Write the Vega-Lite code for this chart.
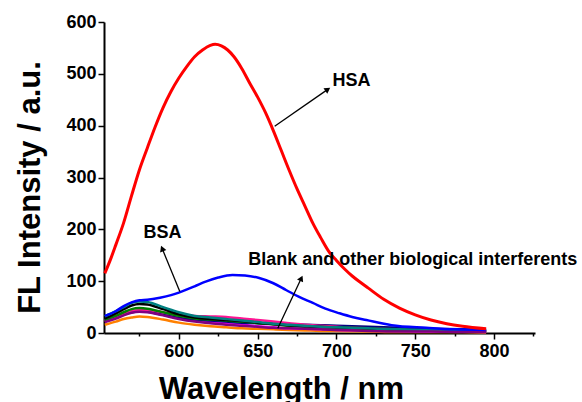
{
  "$schema": "https://vega.github.io/schema/vega-lite/v6.json",
  "width": 431,
  "height": 311,
  "autosize": {"type": "none"},
  "padding": {"left": 104, "top": 22, "right": 47, "bottom": 69},
  "config": {
    "view": {"stroke": null},
    "font": "Liberation Sans",
    "axis": {"grid": false, "domainColor": "black", "domainWidth": 2, "tickColor": "black", "tickWidth": 1.5, "labelFont": "Liberation Sans", "labelFontWeight": "bold", "labelFontSize": 18, "labelColor": "black", "titleFont": "Liberation Sans", "titleFontWeight": "bold", "titleFontSize": 31, "titleColor": "black"}
  },
  "datasets": {
    "red": [
      {"wl": 553, "fl": 115}, {"wl": 557, "fl": 145}, {"wl": 560, "fl": 170}, {"wl": 565, "fl": 213}, {"wl": 570, "fl": 265}, {"wl": 575, "fl": 315}, {"wl": 580, "fl": 357}, {"wl": 585, "fl": 398}, {"wl": 590, "fl": 435}, {"wl": 595, "fl": 466}, {"wl": 600, "fl": 492}, {"wl": 605, "fl": 514}, {"wl": 610, "fl": 533}, {"wl": 615, "fl": 546}, {"wl": 620, "fl": 555}, {"wl": 623, "fl": 557}, {"wl": 627, "fl": 554}, {"wl": 631, "fl": 546}, {"wl": 635, "fl": 533}, {"wl": 640, "fl": 510}, {"wl": 645, "fl": 482}, {"wl": 650, "fl": 455}, {"wl": 655, "fl": 425}, {"wl": 660, "fl": 390}, {"wl": 665, "fl": 352}, {"wl": 670, "fl": 314}, {"wl": 675, "fl": 278}, {"wl": 680, "fl": 245}, {"wl": 685, "fl": 212}, {"wl": 690, "fl": 184}, {"wl": 695, "fl": 158}, {"wl": 700, "fl": 140}, {"wl": 705, "fl": 124}, {"wl": 710, "fl": 110}, {"wl": 716, "fl": 96}, {"wl": 720, "fl": 87}, {"wl": 730, "fl": 65}, {"wl": 740, "fl": 48}, {"wl": 750, "fl": 35}, {"wl": 760, "fl": 25}, {"wl": 770, "fl": 18}, {"wl": 780, "fl": 13}, {"wl": 795, "fl": 8}
    ],
    "blue": [
      {"wl": 553, "fl": 33}, {"wl": 560, "fl": 42}, {"wl": 565, "fl": 52}, {"wl": 570, "fl": 59}, {"wl": 575, "fl": 63}, {"wl": 580, "fl": 64}, {"wl": 588, "fl": 68}, {"wl": 595, "fl": 73}, {"wl": 600, "fl": 78}, {"wl": 610, "fl": 90}, {"wl": 617, "fl": 99}, {"wl": 625, "fl": 107}, {"wl": 634, "fl": 112}, {"wl": 642, "fl": 111}, {"wl": 651, "fl": 106}, {"wl": 660, "fl": 96}, {"wl": 668, "fl": 83}, {"wl": 676, "fl": 70}, {"wl": 685, "fl": 58}, {"wl": 693, "fl": 47}, {"wl": 702, "fl": 38}, {"wl": 710, "fl": 31}, {"wl": 719, "fl": 25}, {"wl": 735, "fl": 15}, {"wl": 757, "fl": 10}, {"wl": 775, "fl": 7}, {"wl": 795, "fl": 6}
    ],
    "others": [
      {"s": "Orange", "wl": 553, "fl": 16}, {"s": "Orange", "wl": 560, "fl": 22}, {"s": "Orange", "wl": 565, "fl": 27}, {"s": "Orange", "wl": 570, "fl": 30}, {"s": "Orange", "wl": 575, "fl": 32}, {"s": "Orange", "wl": 580, "fl": 31}, {"s": "Orange", "wl": 590, "fl": 26}, {"s": "Orange", "wl": 600, "fl": 20}, {"s": "Orange", "wl": 610, "fl": 16}, {"s": "Orange", "wl": 620, "fl": 13}, {"s": "Orange", "wl": 630, "fl": 11}, {"s": "Orange", "wl": 640, "fl": 9}, {"s": "Orange", "wl": 650, "fl": 8}, {"s": "Orange", "wl": 660, "fl": 7}, {"s": "Orange", "wl": 670, "fl": 6}, {"s": "Orange", "wl": 680, "fl": 5}, {"s": "Orange", "wl": 690, "fl": 4}, {"s": "Orange", "wl": 700, "fl": 4}, {"s": "Orange", "wl": 720, "fl": 3}, {"s": "Orange", "wl": 740, "fl": 2}, {"s": "Orange", "wl": 760, "fl": 2}, {"s": "Orange", "wl": 780, "fl": 2}, {"s": "Orange", "wl": 795, "fl": 1},
      {"s": "Magenta", "wl": 553, "fl": 24}, {"s": "Magenta", "wl": 560, "fl": 31}, {"s": "Magenta", "wl": 565, "fl": 37}, {"s": "Magenta", "wl": 570, "fl": 41}, {"s": "Magenta", "wl": 575, "fl": 43}, {"s": "Magenta", "wl": 580, "fl": 42}, {"s": "Magenta", "wl": 590, "fl": 36}, {"s": "Magenta", "wl": 600, "fl": 29}, {"s": "Magenta", "wl": 610, "fl": 24}, {"s": "Magenta", "wl": 620, "fl": 21}, {"s": "Magenta", "wl": 630, "fl": 19}, {"s": "Magenta", "wl": 640, "fl": 16}, {"s": "Magenta", "wl": 650, "fl": 13}, {"s": "Magenta", "wl": 660, "fl": 11}, {"s": "Magenta", "wl": 670, "fl": 9}, {"s": "Magenta", "wl": 680, "fl": 8}, {"s": "Magenta", "wl": 690, "fl": 7}, {"s": "Magenta", "wl": 700, "fl": 6}, {"s": "Magenta", "wl": 720, "fl": 5}, {"s": "Magenta", "wl": 740, "fl": 4}, {"s": "Magenta", "wl": 760, "fl": 3}, {"s": "Magenta", "wl": 780, "fl": 3}, {"s": "Magenta", "wl": 795, "fl": 2},
      {"s": "Navy", "wl": 553, "fl": 24}, {"s": "Navy", "wl": 560, "fl": 31}, {"s": "Navy", "wl": 565, "fl": 36}, {"s": "Navy", "wl": 570, "fl": 40}, {"s": "Navy", "wl": 575, "fl": 42}, {"s": "Navy", "wl": 580, "fl": 41}, {"s": "Navy", "wl": 590, "fl": 35}, {"s": "Navy", "wl": 600, "fl": 29}, {"s": "Navy", "wl": 610, "fl": 26}, {"s": "Navy", "wl": 620, "fl": 24}, {"s": "Navy", "wl": 630, "fl": 22}, {"s": "Navy", "wl": 640, "fl": 20}, {"s": "Navy", "wl": 650, "fl": 19}, {"s": "Navy", "wl": 660, "fl": 18}, {"s": "Navy", "wl": 670, "fl": 17}, {"s": "Navy", "wl": 680, "fl": 16}, {"s": "Navy", "wl": 690, "fl": 15}, {"s": "Navy", "wl": 700, "fl": 14}, {"s": "Navy", "wl": 720, "fl": 12}, {"s": "Navy", "wl": 740, "fl": 10}, {"s": "Navy", "wl": 760, "fl": 8}, {"s": "Navy", "wl": 780, "fl": 7}, {"s": "Navy", "wl": 795, "fl": 6},
      {"s": "Pink", "wl": 553, "fl": 22}, {"s": "Pink", "wl": 560, "fl": 30}, {"s": "Pink", "wl": 565, "fl": 37}, {"s": "Pink", "wl": 570, "fl": 42}, {"s": "Pink", "wl": 575, "fl": 44}, {"s": "Pink", "wl": 580, "fl": 44}, {"s": "Pink", "wl": 590, "fl": 40}, {"s": "Pink", "wl": 600, "fl": 35}, {"s": "Pink", "wl": 610, "fl": 33}, {"s": "Pink", "wl": 620, "fl": 32}, {"s": "Pink", "wl": 630, "fl": 31}, {"s": "Pink", "wl": 640, "fl": 28}, {"s": "Pink", "wl": 650, "fl": 25}, {"s": "Pink", "wl": 660, "fl": 22}, {"s": "Pink", "wl": 670, "fl": 19}, {"s": "Pink", "wl": 680, "fl": 16}, {"s": "Pink", "wl": 690, "fl": 14}, {"s": "Pink", "wl": 700, "fl": 12}, {"s": "Pink", "wl": 720, "fl": 9}, {"s": "Pink", "wl": 740, "fl": 7}, {"s": "Pink", "wl": 760, "fl": 5}, {"s": "Pink", "wl": 780, "fl": 4}, {"s": "Pink", "wl": 795, "fl": 3},
      {"s": "Green", "wl": 553, "fl": 25}, {"s": "Green", "wl": 560, "fl": 33}, {"s": "Green", "wl": 565, "fl": 40}, {"s": "Green", "wl": 570, "fl": 46}, {"s": "Green", "wl": 575, "fl": 48}, {"s": "Green", "wl": 580, "fl": 47}, {"s": "Green", "wl": 590, "fl": 40}, {"s": "Green", "wl": 600, "fl": 33}, {"s": "Green", "wl": 610, "fl": 28}, {"s": "Green", "wl": 620, "fl": 26}, {"s": "Green", "wl": 630, "fl": 24}, {"s": "Green", "wl": 640, "fl": 22}, {"s": "Green", "wl": 650, "fl": 19}, {"s": "Green", "wl": 660, "fl": 17}, {"s": "Green", "wl": 670, "fl": 14}, {"s": "Green", "wl": 680, "fl": 12}, {"s": "Green", "wl": 690, "fl": 11}, {"s": "Green", "wl": 700, "fl": 10}, {"s": "Green", "wl": 720, "fl": 8}, {"s": "Green", "wl": 740, "fl": 6}, {"s": "Green", "wl": 760, "fl": 5}, {"s": "Green", "wl": 780, "fl": 4}, {"s": "Green", "wl": 795, "fl": 3},
      {"s": "Black", "wl": 553, "fl": 28}, {"s": "Black", "wl": 560, "fl": 38}, {"s": "Black", "wl": 565, "fl": 46}, {"s": "Black", "wl": 570, "fl": 53}, {"s": "Black", "wl": 575, "fl": 56}, {"s": "Black", "wl": 580, "fl": 55}, {"s": "Black", "wl": 590, "fl": 46}, {"s": "Black", "wl": 600, "fl": 36}, {"s": "Black", "wl": 610, "fl": 30}, {"s": "Black", "wl": 620, "fl": 27}, {"s": "Black", "wl": 630, "fl": 25}, {"s": "Black", "wl": 640, "fl": 23}, {"s": "Black", "wl": 650, "fl": 20}, {"s": "Black", "wl": 660, "fl": 17}, {"s": "Black", "wl": 670, "fl": 15}, {"s": "Black", "wl": 680, "fl": 13}, {"s": "Black", "wl": 690, "fl": 12}, {"s": "Black", "wl": 700, "fl": 11}, {"s": "Black", "wl": 720, "fl": 9}, {"s": "Black", "wl": 740, "fl": 7}, {"s": "Black", "wl": 760, "fl": 6}, {"s": "Black", "wl": 780, "fl": 5}, {"s": "Black", "wl": 795, "fl": 4},
      {"s": "Teal", "wl": 553, "fl": 32}, {"s": "Teal", "wl": 560, "fl": 42}, {"s": "Teal", "wl": 565, "fl": 50}, {"s": "Teal", "wl": 570, "fl": 58}, {"s": "Teal", "wl": 575, "fl": 61}, {"s": "Teal", "wl": 580, "fl": 60}, {"s": "Teal", "wl": 590, "fl": 50}, {"s": "Teal", "wl": 600, "fl": 40}, {"s": "Teal", "wl": 610, "fl": 33}, {"s": "Teal", "wl": 620, "fl": 30}, {"s": "Teal", "wl": 630, "fl": 27}, {"s": "Teal", "wl": 640, "fl": 24}, {"s": "Teal", "wl": 650, "fl": 21}, {"s": "Teal", "wl": 660, "fl": 18}, {"s": "Teal", "wl": 670, "fl": 16}, {"s": "Teal", "wl": 680, "fl": 14}, {"s": "Teal", "wl": 690, "fl": 12}, {"s": "Teal", "wl": 700, "fl": 11}, {"s": "Teal", "wl": 720, "fl": 9}, {"s": "Teal", "wl": 740, "fl": 7}, {"s": "Teal", "wl": 760, "fl": 6}, {"s": "Teal", "wl": 780, "fl": 5}, {"s": "Teal", "wl": 795, "fl": 4},
      {"s": "Purple", "wl": 553, "fl": 21}, {"s": "Purple", "wl": 560, "fl": 28}, {"s": "Purple", "wl": 565, "fl": 34}, {"s": "Purple", "wl": 570, "fl": 39}, {"s": "Purple", "wl": 575, "fl": 41}, {"s": "Purple", "wl": 580, "fl": 40}, {"s": "Purple", "wl": 590, "fl": 34}, {"s": "Purple", "wl": 600, "fl": 27}, {"s": "Purple", "wl": 610, "fl": 22}, {"s": "Purple", "wl": 620, "fl": 19}, {"s": "Purple", "wl": 630, "fl": 16}, {"s": "Purple", "wl": 640, "fl": 14}, {"s": "Purple", "wl": 650, "fl": 12}, {"s": "Purple", "wl": 660, "fl": 10}, {"s": "Purple", "wl": 670, "fl": 9}, {"s": "Purple", "wl": 680, "fl": 8}, {"s": "Purple", "wl": 690, "fl": 7}, {"s": "Purple", "wl": 700, "fl": 6}, {"s": "Purple", "wl": 720, "fl": 4}, {"s": "Purple", "wl": 740, "fl": 3}, {"s": "Purple", "wl": 760, "fl": 3}, {"s": "Purple", "wl": 780, "fl": 2}, {"s": "Purple", "wl": 795, "fl": 2}
    ],
    "labels": [
      {"text": "HSA", "x": 709.5, "y": 487},
      {"text": "BSA", "x": 589.6, "y": 193},
      {"text": "Blank and other biological interferents", "x": 748.4, "y": 141}
    ],
    "arrows": [
      {"x": 660.8, "y": 399, "x2": 694.5, "y2": 470},
      {"x": 600.6, "y": 80, "x2": 589.4, "y2": 163},
      {"x": 662.8, "y": 9, "x2": 677.7, "y2": 105.6}
    ]
  },
  "layer": [
    {
      "data": {"name": "others"},
      "mark": {"type": "line", "strokeWidth": 2.5, "interpolate": "monotone"},
      "encoding": {
        "x": {"field": "wl", "type": "quantitative", "scale": {"domain": [552.5, 826], "nice": false, "zero": false},
          "axis": {"title": "Wavelength / nm", "values": [575, 600, 625, 650, 675, 700, 725, 750, 775, 800, 825], "labelExpr": "datum.value % 50 === 0 ? datum.label : ''", "tickSize": {"condition": {"test": "datum.value % 50 === 0", "value": 6}, "value": 3}, "labelPadding": 3, "titleX": 177, "titleY": 65, "titleBaseline": "alphabetic", "titleAnchor": null, "titleAlign": "center"}},
        "y": {"field": "fl", "type": "quantitative", "scale": {"domain": [0, 600], "nice": false},
          "axis": {"title": "FL Intensity / a.u.", "values": [0, 50, 100, 150, 200, 250, 300, 350, 400, 450, 500, 550, 600], "labelExpr": "datum.value % 100 === 0 ? datum.label : ''", "tickSize": {"condition": {"test": "datum.value % 100 === 0", "value": 6}, "value": 3}, "labelPadding": 2, "titleX": -65, "titleY": 165, "titleBaseline": "alphabetic", "titleAngle": -90, "titleAlign": "center", "titleAnchor": null}},
        "color": {"field": "s", "type": "nominal", "legend": null,
          "scale": {"domain": ["Orange", "Magenta", "Navy", "Pink", "Green", "Black", "Teal", "Purple"], "range": ["#FF8000", "#FF00FF", "#000080", "#FF1493", "#008000", "#000000", "#008080", "#800080"]}}
      }
    },
    {
      "data": {"name": "blue"},
      "mark": {"type": "line", "strokeWidth": 2.5, "color": "#0000FF", "interpolate": "monotone"},
      "encoding": {"x": {"field": "wl", "type": "quantitative"}, "y": {"field": "fl", "type": "quantitative"}}
    },
    {
      "data": {"name": "red"},
      "mark": {"type": "line", "strokeWidth": 3, "color": "#FF0000", "interpolate": "monotone"},
      "encoding": {"x": {"field": "wl", "type": "quantitative"}, "y": {"field": "fl", "type": "quantitative"}}
    },
    {
      "data": {"name": "arrows"},
      "mark": {"type": "rule", "color": "black", "strokeWidth": 1.3},
      "encoding": {"x": {"field": "x", "type": "quantitative"}, "y": {"field": "y", "type": "quantitative"}, "x2": {"field": "x2"}, "y2": {"field": "y2"}}
    },
    {
      "data": {"name": "arrows"},
      "transform": [{"calculate": "atan2((datum.x2 - datum.x) * 1.576, (datum.y2 - datum.y) * 0.5183) * 180 / PI", "as": "ang"}],
      "mark": {"type": "point", "shape": "triangle-up", "filled": true, "color": "black", "size": 45, "opacity": 1},
      "encoding": {"x": {"field": "x2", "type": "quantitative"}, "y": {"field": "y2", "type": "quantitative"}, "angle": {"field": "ang", "type": "quantitative", "scale": null}}
    },
    {
      "data": {"name": "labels"},
      "mark": {"type": "text", "fontWeight": "bold", "font": "Liberation Sans", "fontSize": 18, "color": "black", "align": "center", "baseline": "middle"},
      "encoding": {"x": {"field": "x", "type": "quantitative"}, "y": {"field": "y", "type": "quantitative"}, "text": {"field": "text"}}
    }
  ]
}
